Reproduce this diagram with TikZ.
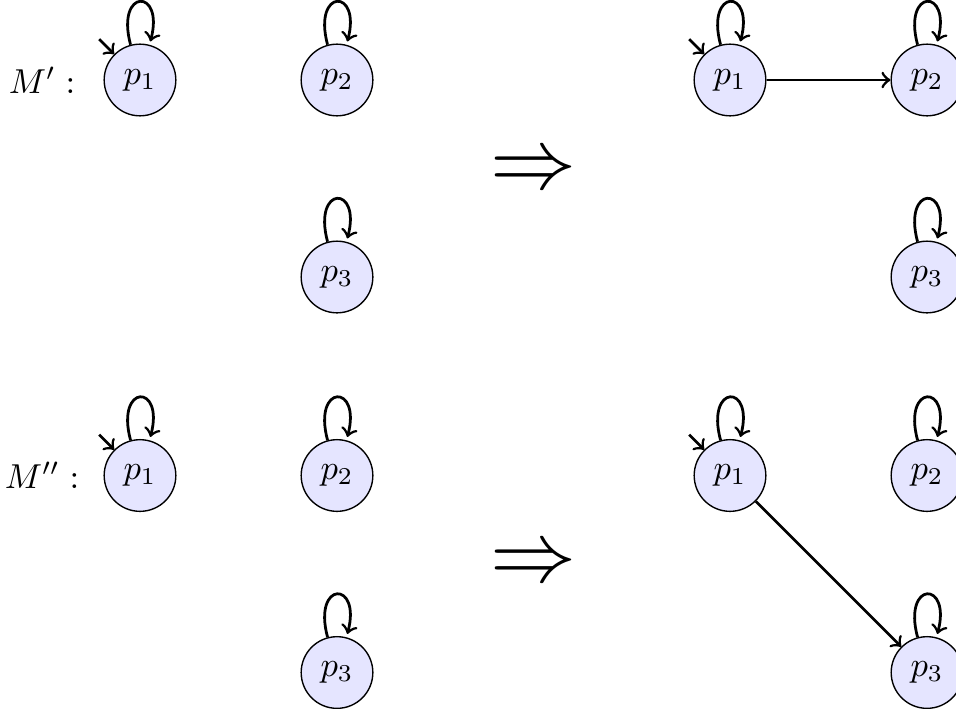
\documentclass[tikz,border=0pt]{standalone}
\begin{document}
\tikzset{
  stt/.style={circle, draw, fill=blue!10, line width=0.4pt},
  trans/.style={->, thick},
  selfloop/.style={loop above, shorten >=1pt},
  impl/.style={font=\Huge}
}
\begin{tikzpicture}[x=0.289pt, y=-0.289pt]
\useasboundingbox (0,0) rectangle (956,708);

% ---- M' before ----
\node[stt] (a1) at (140,80) {$p_1$};
\node[stt] (a2) at (337,80) {$p_2$};
\node[stt] (a3) at (337,277) {$p_3$};
\node (ma) at (42,80) {$M':$};
\coordinate (ia) at ([shift={(-15,-15)}]a1.135);
\draw[trans] (ia) -- (a1.135);
\path[trans] (a1) edge[selfloop] (a1)
             (a2) edge[selfloop] (a2)
             (a3) edge[selfloop] (a3);

% ---- M' after ----
\node[stt] (b1) at (730,80) {$p_1$};
\node[stt] (b2) at (927,80) {$p_2$};
\node[stt] (b3) at (927,277) {$p_3$};
\coordinate (ib) at ([shift={(-15,-15)}]b1.135);
\draw[trans] (ib) -- (b1.135);
\path[trans] (b1) edge[selfloop] (b1)
             (b2) edge[selfloop] (b2)
             (b3) edge[selfloop] (b3)
             (b1) edge (b2);

\node[impl] (r1) at (533.5,173) {$\Rightarrow$};

% ---- M'' before ----
\node[stt] (c1) at (140,475.5) {$p_1$};
\node[stt] (c2) at (337,475.5) {$p_2$};
\node[stt] (c3) at (337,672.5) {$p_3$};
\node (mc) at (42,475.5) {$M'':$};
\coordinate (ic) at ([shift={(-15,-15)}]c1.135);
\draw[trans] (ic) -- (c1.135);
\path[trans] (c1) edge[selfloop] (c1)
             (c2) edge[selfloop] (c2)
             (c3) edge[selfloop] (c3);

% ---- M'' after ----
\node[stt] (d1) at (730,475.5) {$p_1$};
\node[stt] (d2) at (927,475.5) {$p_2$};
\node[stt] (d3) at (927,672.5) {$p_3$};
\coordinate (id) at ([shift={(-15,-15)}]d1.135);
\draw[trans] (id) -- (d1.135);
\path[trans] (d1) edge[selfloop] (d1)
             (d2) edge[selfloop] (d2)
             (d3) edge[selfloop] (d3)
             (d1) edge (d3);

\node[impl] (r2) at (533.5,566) {$\Rightarrow$};
\end{tikzpicture}
\end{document}
